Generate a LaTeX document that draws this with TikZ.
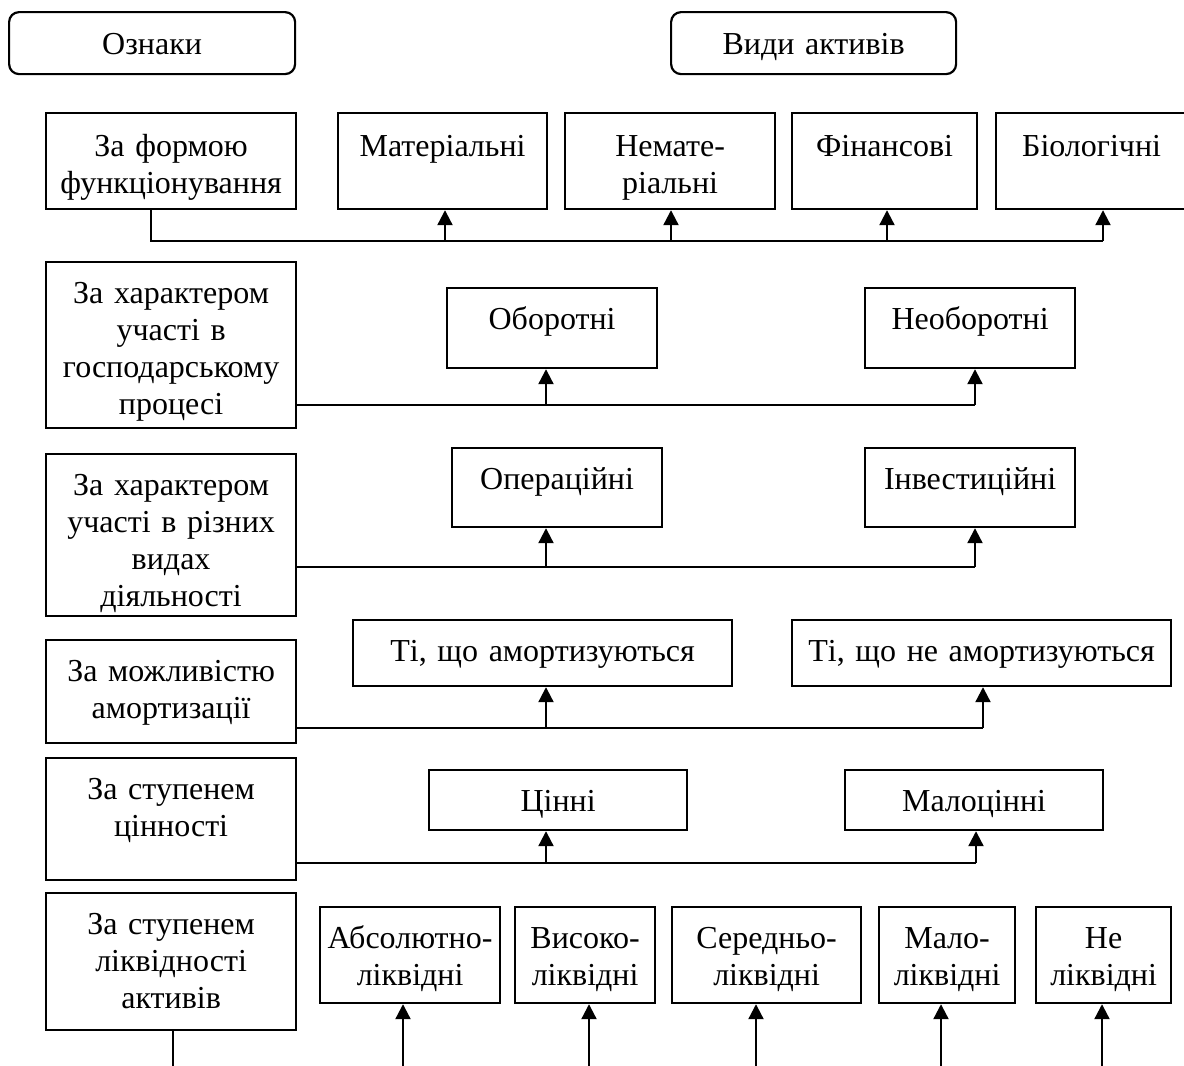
\documentclass[tikz,border=0pt]{standalone}
\usepackage{fontspec}
\setmainfont{Liberation Serif}
\usetikzlibrary{calc, arrows.meta}

\tikzset{
  cell/.style={draw, line width=2.2pt, align=center, inner sep=0pt, anchor=north west, text height=41pt},
  link/.style={line width=2.2pt},
  tip/.style={line width=2.2pt, -{Triangle[width=15pt,length=15pt]}},
}

\begin{document}
\begin{tikzpicture}[x=1pt,y=-1pt,font=\fontsize{32pt}{37pt}\selectfont]
            \useasboundingbox (0,0) rectangle (1184,1066);
            \clip (0,0) rectangle (1184,1066);
            \node[cell, rounded corners=10pt, text width=286pt, text height=42pt, text depth=20pt] (ozn) at (8,11) {Ознаки};
            \node[cell, rounded corners=10pt, text width=285pt, text height=42pt, text depth=20pt] (vyd) at (670,11) {Види активів};
            \node[cell, text width=250pt, text height=43pt, text depth=53pt] (l1) at (45,112) {За формою\\функціонування};
            \foreach \n/\y/\d/\t in {l2/261/125/{За характером\\участі в\\господарському\\процесі}, l3/453/121/{За характером\\участі в різних\\видах\\діяльності}, l4/639/62/{За можливістю\\амортизації}, l5/757/81/{За ступенем\\цінності}, l6/892/96/{За ступенем\\ліквідності\\активів}}{
                \node[cell, text width=250pt, text depth=\d pt] (\n) at (45,\y) {\t};
            }
            \foreach \n/\x/\w/\t in {mat/337/209/Матеріальні, nemat/564/210/{Немате-\\ріальні}, fin/791/185/Фінансові, bio/995/191/Біологічні}{
                \node[cell, text width=\w pt, text height=43pt, text depth=53pt] (\n) at (\x,112) {\t};
            }
            \foreach \n/\x/\y/\w/\d/\t in {obor/446/287/210/39/Оборотні, neobor/864/287/210/39/Необоротні, oper/451/447/210/38/Операційні, invest/864/447/210/38/Інвестиційні, amort/352/619/379/25/{Ті, що амортизуються}, neamort/791/619/379/25/{Ті, що не амортизуються}, tsinni/428/769/258/19/Цінні, malots/844/769/258/19/Малоцінні}{
                \node[cell, text width=\w pt, text depth=\d pt] (\n) at (\x,\y) {\t};
            }
            \foreach \n/\x/\w/\t in {abs/319/180/{Абсолютно-\\ліквідні}, vys/514/140/{Високо-\\ліквідні}, ser/671/189/{Середньо-\\ліквідні}, malo/878/136/{Мало-\\ліквідні}, ne/1035/135/{Не\\ліквідні}}{
                \node[cell, text width=\w pt, text depth=55pt] (\n) at (\x,906) {\t};
            }
            \coordinate (j1) at (151,241);
            \foreach \n/\x in {mat/445, nemat/671, fin/887, bio/1103}{
                \coordinate (\n-in) at (\x,241);
                \draw[tip] (\n-in) -- (\n-in |- \n.south);
            }
            \draw[link] (l1.south -| j1) -- (j1) -- (bio-in);
            \foreach \r/\y/\a/\b/\xa/\xb in {2/405/obor/neobor/546/975, 3/567/oper/invest/546/975, 4/728/amort/neamort/546/983, 5/863/tsinni/malots/546/976}{
                \coordinate (\a-in) at (\xa,\y);
                \coordinate (\b-in) at (\xb,\y);
                \draw[link] (l\r.east |- \a-in) -- (\b-in);
                \draw[tip] (\a-in) -- (\a-in |- \a.south);
                \draw[tip] (\b-in) -- (\b-in |- \b.south);
            }
            \coordinate (j6) at (173,1080);
            \draw[link] (l6.south -| j6) -- (j6);
            \foreach \n/\x in {abs/403, vys/589, ser/756, malo/941, ne/1102}{
                \coordinate (\n-in) at (\x,1080);
                \draw[tip] (\n-in) -- (\n-in |- \n.south);
            }
        \end{tikzpicture}
\end{document}
